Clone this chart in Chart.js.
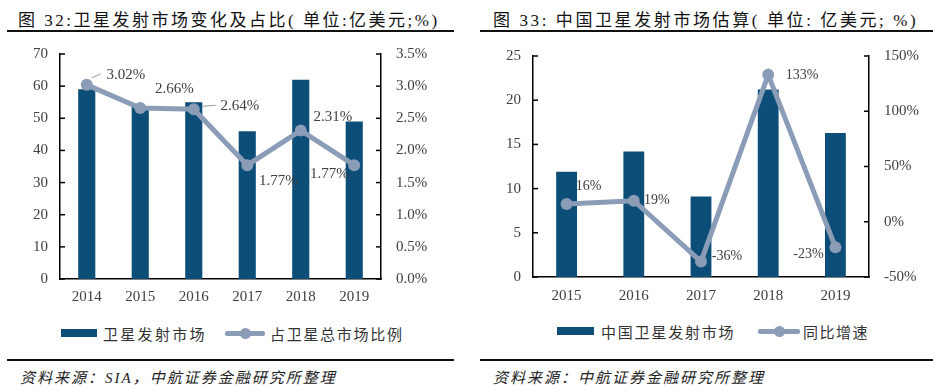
<!DOCTYPE html>
<html>
<head>
<meta charset="utf-8">
<script src="https://cdn.jsdelivr.net/npm/chart.js@4"></script>
<style>
  body { margin: 0; background: #fff; width: 933px; height: 391px; position: relative; overflow: hidden;
         font-family: "Liberation Serif", "Noto Sans CJK SC", serif; color: #222; }
  .abs { position: absolute; white-space: nowrap; }
  .title { font-size: 17px; top: 6px; letter-spacing: 2.5px; color: #111; }
  .rule { position: absolute; height: 1.5px; background: #111; }
  .src { font-size: 15px; top: 366px; font-style: italic; color: #222; letter-spacing: 2px; }
  .leg { font-size: 15px; color: #333; top: 323px; }
  .box { position: absolute; height: 8px; background: #0c4e78; }
  .lline { position: absolute; height: 5px; background: #8a9cb6; border-radius: 2px; }
  .ldot { position: absolute; width: 11px; height: 11px; border-radius: 50%; background: #8a9cb6; }
  canvas { position: absolute; }
</style>
</head>
<body>
<div class="abs title" style="left:18px;">图 32:卫星发射市场变化及占比( 单位:亿美元;%)</div>
<div class="rule" style="left:7px; width:447px; top:30px;"></div>
<div class="abs title" style="left:493px; letter-spacing:2.6px;">图 33: 中国卫星发射市场估算( 单位: 亿美元; %)</div>
<div class="rule" style="left:480px; width:453px; top:30px;"></div>

<div style="position:absolute;left:0;top:0;width:466px;height:310px;"><canvas id="c1"></canvas></div>
<div style="position:absolute;left:470px;top:0;width:463px;height:310px;"><canvas id="c2"></canvas></div>

<!-- legends -->
<div class="box" style="left:61px; width:36px; top:329px;"></div>
<div class="abs leg" style="left:103px; letter-spacing:2.3px;">卫星发射市场</div>
<div class="lline" style="left:225px; width:40px; top:331px;"></div>
<div class="ldot" style="left:240px; top:328px;"></div>
<div class="abs leg" style="left:270px; letter-spacing:1.7px;">占卫星总市场比例</div>

<div class="box" style="left:557px; width:37px; top:327px;"></div>
<div class="abs leg" style="left:601px; top:321px; letter-spacing:1.8px;">中国卫星发射市场</div>
<div class="lline" style="left:758px; width:42px; top:329px;"></div>
<div class="ldot" style="left:774px; top:326px;"></div>
<div class="abs leg" style="left:803px; top:321px; letter-spacing:1.5px;">同比增速</div>

<div class="rule" style="left:7px; width:447px; top:359px;"></div>
<div class="abs src" style="left:20px;">资料来源：SIA，中航证券金融研究所整理</div>
<div class="rule" style="left:480px; width:453px; top:359px;"></div>
<div class="abs src" style="left:493px;">资料来源：中航证券金融研究所整理</div>

<script>
// chart 32
const years1 = ['2014', '2015', '2016', '2017', '2018', '2019'];
const launchMarket = [59, 53.5, 55, 46, 62, 49];
const launchShare = [3.02, 2.66, 2.64, 1.77, 2.31, 1.77];
const shareTicks = [0, 0.5, 1.0, 1.5, 2.0, 2.5, 3.0, 3.5];

// chart 33
const years2 = ['2015', '2016', '2017', '2018', '2019'];
const chinaMarket = [11.9, 14.2, 9.1, 21.2, 16.3];
const chinaGrowth = [16, 19, -36, 133, -23];

const BAR = '#0c4e78';
const LINE = '#8a9cb6';
const TXT = '#404040';
const FONT = '"Liberation Serif", "Noto Sans CJK SC", serif';

// small inner tick marks on both y axes
const innerTicks = {
  id: 'innerTicks',
  afterDraw(chart) {
    const ctx = chart.ctx;
    const a = chart.chartArea;
    ctx.save();
    ctx.strokeStyle = '#000';
    ctx.lineWidth = 1.5;
    ['y', 'y1'].forEach(id => {
      const s = chart.scales[id];
      s.ticks.forEach(t => {
        const py = s.getPixelForValue(t.value);
        ctx.beginPath();
        if (id === 'y') { ctx.moveTo(a.left, py); ctx.lineTo(a.left + 5, py); }
        else { ctx.moveTo(a.right, py); ctx.lineTo(a.right - 5, py); }
        ctx.stroke();
      });
    });
    ctx.restore();
  }
};

// value labels next to the line points
const pointLabels = {
  id: 'pointLabels',
  afterDatasetsDraw(chart, args, opts) {
    const ctx = chart.ctx;
    const meta = chart.getDatasetMeta(1);
    ctx.save();
    ctx.font = opts.size + 'px ' + FONT;
    ctx.fillStyle = TXT;
    ctx.textAlign = 'center';
    ctx.textBaseline = 'middle';
    meta.data.forEach((pt, i) => {
      const [dx, dy] = opts.offsets[i];
      ctx.fillText(opts.format(chart.data.datasets[1].data[i]), pt.x + dx, pt.y + dy);
      const ld = opts.leaders[i];
      if (ld) {
        ctx.strokeStyle = '#999';
        ctx.lineWidth = 1;
        ctx.beginPath();
        ctx.moveTo(pt.x + ld[0], pt.y + ld[1]);
        ctx.lineTo(pt.x + ld[2], pt.y + ld[3]);
        ctx.stroke();
      }
    });
    ctx.restore();
  }
};

function fixW(w) { return s => { s.width = w; }; }
function fixH(h) { return s => { s.height = h; }; }

const tickFont = { family: FONT, size: 15 };

new Chart(document.getElementById('c1'), {
  data: {
    labels: years1,
    datasets: [{
      type: 'bar',
      label: '卫星发射市场',
      data: launchMarket,
      backgroundColor: BAR,
      barPercentage: 0.32,
      categoryPercentage: 1,
      yAxisID: 'y',
      order: 2
    }, {
      type: 'line',
      label: '占卫星总市场比例',
      data: launchShare,
      borderColor: LINE,
      backgroundColor: LINE,
      borderWidth: 5,
      pointRadius: 6,
      pointBackgroundColor: LINE,
      pointBorderWidth: 0,
      yAxisID: 'y1',
      order: 1
    }]
  },
  options: {
    responsive: true,
    maintainAspectRatio: false,
    animation: false,
    layout: { padding: { top: 54, left: 0, right: 0, bottom: 0 } },
    scales: {
      x: {
        grid: { display: false, drawTicks: false },
        border: { color: '#000', width: 1.5 },
        ticks: { color: TXT, font: tickFont, padding: 9 },
        afterFit: fixH(31)
      },
      y: {
        min: 0, max: 70,
        ticks: { stepSize: 10, color: TXT, font: tickFont, padding: 12 },
        grid: { display: false, drawTicks: false },
        border: { color: '#000', width: 1.5 },
        afterFit: fixW(60)
      },
      y1: {
        position: 'right',
        min: 0, max: 3.5,
        afterBuildTicks: s => { s.ticks = shareTicks.map(v => ({ value: v })); },
        ticks: { color: TXT, font: tickFont, padding: 15, callback: v => v.toFixed(1) + '%' },
        grid: { display: false, drawTicks: false },
        border: { color: '#000', width: 1.5 },
        afterFit: fixW(85)
      }
    },
    plugins: {
      legend: { display: false },
      tooltip: { enabled: false },
      pointLabels: {
        size: 15,
        format: v => v.toFixed(2) + '%',
        offsets: [[39, -10], [34, -19], [46, -3], [31, 16], [32, -13], [-25, 9]],
        leaders: [[5, -7, 14, -11], null, [9, -3, 22, -4], null, null, null]
      }
    }
  },
  plugins: [innerTicks, pointLabels]
});

new Chart(document.getElementById('c2'), {
  data: {
    labels: years2,
    datasets: [{
      type: 'bar',
      label: '中国卫星发射市场',
      data: chinaMarket,
      backgroundColor: BAR,
      barPercentage: 0.31,
      categoryPercentage: 1,
      yAxisID: 'y',
      order: 2
    }, {
      type: 'line',
      label: '同比增速',
      data: chinaGrowth,
      borderColor: LINE,
      backgroundColor: LINE,
      borderWidth: 5,
      pointRadius: 6,
      pointBackgroundColor: LINE,
      pointBorderWidth: 0,
      yAxisID: 'y1',
      order: 1
    }]
  },
  options: {
    responsive: true,
    maintainAspectRatio: false,
    animation: false,
    layout: { padding: { top: 56, left: 0, right: 0, bottom: 0 } },
    scales: {
      x: {
        grid: { display: false, drawTicks: false },
        border: { color: '#000', width: 1.5 },
        ticks: { color: TXT, font: tickFont, padding: 10 },
        afterFit: fixH(33)
      },
      y: {
        min: 0, max: 25,
        ticks: { stepSize: 5, color: TXT, font: tickFont, padding: 12 },
        grid: { display: false, drawTicks: false },
        border: { color: '#000', width: 1.5 },
        afterFit: fixW(63)
      },
      y1: {
        position: 'right',
        min: -50, max: 150,
        ticks: { stepSize: 50, color: TXT, font: tickFont, padding: 15, callback: v => v + '%' },
        grid: { display: false, drawTicks: false },
        border: { color: '#000', width: 1.5 },
        afterFit: fixW(64)
      }
    },
    plugins: {
      legend: { display: false },
      tooltip: { enabled: false },
      pointLabels: {
        size: 14,
        format: v => v + '%',
        offsets: [[22, -18], [23, 0], [26, -5], [34, 1], [-27, 7]],
        leaders: [null, null, null, null, null]
      }
    }
  },
  plugins: [innerTicks, pointLabels]
});
</script>
</body>
</html>
